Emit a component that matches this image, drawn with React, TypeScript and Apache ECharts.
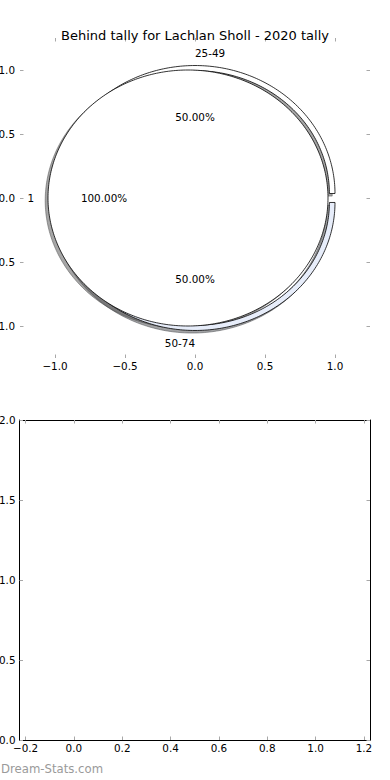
import React, { useEffect, useRef } from "react";
import * as echarts from "echarts";

// ---------- data ----------
const TITLE = "Behind tally for Lachlan Sholl - 2020 tally";
const WATERMARK = "Dream-Stats.com";

const outerLabels = ["25-49", "50-74"];
const outerValues = [1, 1];
const innerLabels = ["1"];
const innerValues = [1];

const pieTicks = [-1, -0.5, 0, 0.5, 1];
const lowerXTicks = [-0.2, 0, 0.2, 0.4, 0.6, 0.8, 1.0, 1.2];
const lowerYTicks = [0, 0.5, 1, 1.5, 2];

// ---------- styles ----------
const FONT = "DejaVu Sans";
const FS = 10.4;
const OUTER_COLORS = ["#ffffff", "#e7edfa"];
const INNER_COLORS = ["#ffffff"];
const OUTER_EXPLODE = 0.035;
const INNER_EXPLODE = 0.05;
const OUTER_RADIUS = 1;
const OUTER_WIDTH = 0.04;
const INNER_RADIUS = 1;
const LABEL_DIST = 1.1;
const PCT_DIST = 0.6;
const SHADOW_OFF = -0.02;
const TICK_COLOR = "#a8a8a8";

type Wedge = {
  t1: number;
  t2: number;
  mid: number;
  cx: number;
  cy: number;
  r: number;
  width: number;
  color: string;
  label: string;
  pct: string;
};

function buildWedges(
  values: number[],
  labels: string[],
  colors: string[],
  r: number,
  width: number,
  explode: number
): Wedge[] {
  const total = values.reduce((a, b) => a + b, 0);
  let cum = 0;
  return values.map((v, i) => {
    const t1 = (cum / total) * 360;
    cum += v;
    const t2 = (cum / total) * 360;
    const mid = (((t1 + t2) / 2) * Math.PI) / 180;
    return {
      t1,
      t2,
      mid,
      cx: explode * Math.cos(mid),
      cy: explode * Math.sin(mid),
      r,
      width,
      color: colors[i % colors.length],
      label: labels[i],
      pct: ((v / total) * 100).toFixed(2) + "%",
    };
  });
}

function wedgePoints(w: Wedge, dx: number, dy: number): number[][] {
  const pts: number[][] = [];
  const full = w.t2 - w.t1 >= 360 - 1e-9;
  const span = w.t2 - w.t1;
  const n = Math.max(8, Math.ceil(span / 1));
  const cx = w.cx + dx;
  const cy = w.cy + dy;
  for (let k = 0; k <= n; k++) {
    const a = ((w.t1 + (span * k) / n) * Math.PI) / 180;
    pts.push([cx + w.r * Math.cos(a), cy + w.r * Math.sin(a)]);
  }
  if (w.width > 0) {
    const ri = w.r - w.width;
    for (let k = n; k >= 0; k--) {
      const a = ((w.t1 + (span * k) / n) * Math.PI) / 180;
      pts.push([cx + ri * Math.cos(a), cy + ri * Math.sin(a)]);
    }
  } else if (!full) {
    pts.push([cx, cy]);
  }
  return pts;
}

function shadowColor(hex: string): string {
  const h = hex.replace("#", "");
  const r = Math.round(parseInt(h.slice(0, 2), 16) * 0.3);
  const g = Math.round(parseInt(h.slice(2, 4), 16) * 0.3);
  const b = Math.round(parseInt(h.slice(4, 6), 16) * 0.3);
  return `rgba(${r},${g},${b},0.5)`;
}

const fmt = (v: number) =>
  (v < -1e-9 ? "\u2212" : "") + Math.abs(v).toFixed(1);

export default function App() {
  const ref = useRef<HTMLDivElement>(null);

  useEffect(() => {
    document.body.style.margin = "0";
    if (!ref.current) return;
    const chart = echarts.init(ref.current, undefined, { renderer: "svg" });

    const outer = buildWedges(
      outerValues,
      outerLabels,
      OUTER_COLORS,
      OUTER_RADIUS,
      OUTER_WIDTH,
      OUTER_EXPLODE
    );
    const inner = buildWedges(
      innerValues,
      innerLabels,
      INNER_COLORS,
      INNER_RADIUS,
      0,
      INNER_EXPLODE
    );
    const all = [...outer, ...inner];

    const polyRender =
      (list: Wedge[], shadow: boolean) => (params: any, api: any) => {
        const w = list[params.dataIndex];
        const pts = wedgePoints(
          w,
          shadow ? SHADOW_OFF : 0,
          shadow ? SHADOW_OFF : 0
        ).map((p) => api.coord(p));
        const col = shadow ? shadowColor(w.color) : w.color;
        return {
          type: "polygon",
          shape: { points: pts },
          style: {
            fill: col,
            stroke: shadow ? col : "#000",
            lineWidth: shadow ? 1 : 0.8,
          },
        };
      };

    const textItems: any[] = [];
    all.forEach((w) => {
      const xt = w.cx + LABEL_DIST * w.r * Math.cos(w.mid);
      const yt = w.cy + LABEL_DIST * w.r * Math.sin(w.mid);
      textItems.push({
        x: xt,
        y: yt,
        text: w.label,
        align: xt > 0 ? "left" : "right",
      });
      textItems.push({
        x: w.cx + PCT_DIST * w.r * Math.cos(w.mid),
        y: w.cy + PCT_DIST * w.r * Math.sin(w.mid),
        text: w.pct,
        align: "center",
      });
    });

    const tickStyle = (vals: number[]) => ({
      inside: true,
      length: 3.5,
      customValues: vals,
      lineStyle: { color: TICK_COLOR, width: 1 },
    });
    const labelStyle = (vals: number[], margin: number) => ({
      customValues: vals,
      formatter: fmt,
      margin,
      fontSize: FS,
      fontFamily: FONT,
      color: "#000",
    });

    const option: any = {
      animation: false,
      title: {
        text: TITLE,
        left: "center",
        top: 22,
        textStyle: {
          fontSize: 13,
          fontWeight: "normal",
          fontFamily: FONT,
          color: "#000",
          lineHeight: 16,
        },
      },
      grid: [
        {
          left: 20,
          top: 38,
          width: 350,
          height: 320,
          containLabel: false,
          outerBoundsMode: "none",
        },
        {
          left: 19.5,
          top: 420,
          width: 350.5,
          height: 320,
          containLabel: false,
          outerBoundsMode: "none",
        },
      ],
      xAxis: [
        {
          gridIndex: 0,
          type: "value",
          min: -1.25,
          max: 1.25,
          position: "bottom",
          axisLine: { show: false, onZero: false },
          splitLine: { show: false },
          axisTick: tickStyle(pieTicks),
          axisLabel: labelStyle(pieTicks, 3),
        },
        {
          gridIndex: 0,
          type: "value",
          min: -1.25,
          max: 1.25,
          position: "top",
          axisLine: { show: false, onZero: false },
          splitLine: { show: false },
          axisTick: tickStyle(pieTicks),
          axisLabel: { show: false },
        },
        {
          gridIndex: 1,
          type: "value",
          min: -0.225,
          max: 1.225,
          position: "bottom",
          axisLine: { show: true, onZero: false, lineStyle: { color: "#000", width: 1 } },
          splitLine: { show: false },
          axisTick: tickStyle(lowerXTicks),
          axisLabel: labelStyle(lowerXTicks, 3),
        },
        {
          gridIndex: 1,
          type: "value",
          min: -0.225,
          max: 1.225,
          position: "top",
          axisLine: { show: true, onZero: false, lineStyle: { color: "#000", width: 1 } },
          splitLine: { show: false },
          axisTick: tickStyle(lowerXTicks),
          axisLabel: { show: false },
        },
      ],
      yAxis: [
        {
          gridIndex: 0,
          type: "value",
          min: -1.25,
          max: 1.25,
          position: "left",
          axisLine: { show: false, onZero: false },
          splitLine: { show: false },
          axisTick: tickStyle(pieTicks),
          axisLabel: labelStyle(pieTicks, 5),
        },
        {
          gridIndex: 0,
          type: "value",
          min: -1.25,
          max: 1.25,
          position: "right",
          axisLine: { show: false, onZero: false },
          splitLine: { show: false },
          axisTick: tickStyle(pieTicks),
          axisLabel: { show: false },
        },
        {
          gridIndex: 1,
          type: "value",
          min: 0,
          max: 2,
          interval: 0.5,
          position: "left",
          axisLine: { show: true, onZero: false, lineStyle: { color: "#000", width: 1 } },
          splitLine: { show: false },
          axisTick: tickStyle(lowerYTicks),
          axisLabel: labelStyle(lowerYTicks, 4),
        },
        {
          gridIndex: 1,
          type: "value",
          min: 0,
          max: 2,
          interval: 0.5,
          position: "right",
          axisLine: { show: true, onZero: false, lineStyle: { color: "#000", width: 1 } },
          splitLine: { show: false },
          axisTick: tickStyle(lowerYTicks),
          axisLabel: { show: false },
        },
      ],
      graphic: [
        {
          type: "text",
          left: 1,
          top: 763,
          style: {
            text: WATERMARK,
            fontSize: 11.7,
            fontFamily: FONT,
            fill: "#9a9a9a",
          },
        },
      ],
      series: [
        {
          name: "shadows",
          type: "custom",
          coordinateSystem: "cartesian2d",
          xAxisIndex: 0,
          yAxisIndex: 0,
          z: 1,
          silent: true,
          data: all.map((w, i) => [w.cx, w.cy, i]),
          renderItem: polyRender(all, true),
        },
        {
          name: "outer",
          type: "custom",
          coordinateSystem: "cartesian2d",
          xAxisIndex: 0,
          yAxisIndex: 0,
          z: 2,
          silent: true,
          data: outer.map((w, i) => [w.cx, w.cy, i]),
          renderItem: polyRender(outer, false),
        },
        {
          name: "inner",
          type: "custom",
          coordinateSystem: "cartesian2d",
          xAxisIndex: 0,
          yAxisIndex: 0,
          z: 3,
          silent: true,
          data: inner.map((w, i) => [w.cx, w.cy, i]),
          renderItem: polyRender(inner, false),
        },
        {
          name: "labels",
          type: "custom",
          coordinateSystem: "cartesian2d",
          xAxisIndex: 0,
          yAxisIndex: 0,
          z: 4,
          silent: true,
          data: textItems.map((t) => [t.x, t.y]),
          renderItem: (params: any, api: any) => {
            const t = textItems[params.dataIndex];
            const p = api.coord([t.x, t.y]);
            return {
              type: "text",
              x: p[0],
              y: p[1],
              style: {
                text: t.text,
                fontSize: FS,
                fontFamily: FONT,
                fill: "#000",
                align: t.align,
                verticalAlign: "middle",
              },
            };
          },
        },
      ],
    };

    chart.setOption(option);
    return () => chart.dispose();
  }, []);

  return <div ref={ref} style={{ width: 390, height: 780 }} />;
}
